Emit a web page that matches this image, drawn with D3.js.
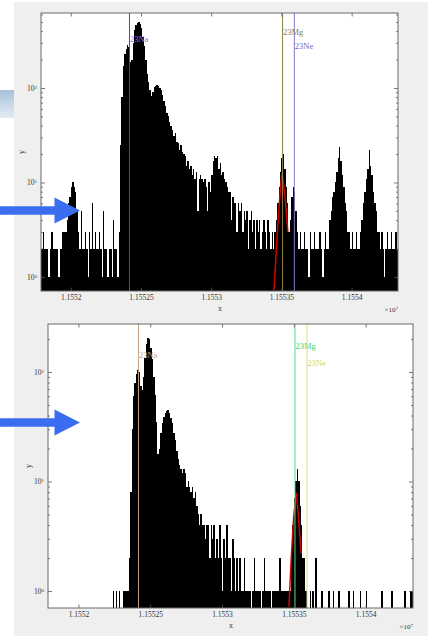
<!DOCTYPE html>
<html>
<head>
<meta charset="utf-8">
<script src="https://d3js.org/d3.v7.min.js"></script>
<style>
  body { margin: 0; background: #fff; }
  svg { display: block; }
  text { font-family: "Liberation Serif", "DejaVu Serif", serif; }
</style>
</head>
<body>
<svg id="chart" width="428" height="636"></svg>
<script>
// histogram bins (x in raw units, axis shows x/1e7)
var binStart = 11551790;
var binWidth = 10;
var xDomain = [11551788, 11554330];
var xTicks = [11552000, 11552500, 11553000, 11553500, 11554000];
var yTicks = [1, 10, 100];
var yMinor = [2, 3, 4, 5, 6, 7, 8, 9, 20, 30, 40, 50, 60, 70, 80, 90, 200, 300, 400, 500, 600];

var isotopes = ["23Na", "23Mg", "23Ne"];
var isotopeX = [11552418, 11553508, 11553592];

// counts, first run
var topCounts = [
  2,3,2,2,2,1,2,3,2,2,2,2,1,2,2,3,
  3,3,4,6,7,9,10,9,8,5,3,
  2,5,2,2,3,2,1,3,2,6,2,3,2,2,3,2,1,5,2,2,1,2,2,1,4,2,2,1,
  3,25,80,170,230,260,285,
  270,190,200,300,410,460,490,500,470,430,
  350,280,200,140,115,95,82,90,102,106,
  108,104,100,96,85,72,64,55,50,44,
  40,36,31,33,27,26,22,25,21,20,
  19,15,17,14,15,12,14,11,13,5,
  11,12,11,10,11,9,5,10,8,12,
  17,19,18,19,14,16,
  12,13,11,10,9,8,8,4,7,6,
  6,3,6,5,6,3,5,4,5,2,
  4,5,3,4,2,4,3,4,2,3,
  4,3,2,4,3,2,3,2,
  3,4,6,9,13,18,20,14,9,6,3,4,7,9,8,5,3,
  2,3,2,2,3,2,2,1,3,2,2,3,2,2,2,3,2,1,2,3,2,2,
  4,5,7,8,10,13,18,24,17,12,9,6,5,3,3,
  2,3,2,2,3,2,2,3,
  4,6,8,11,14,22,15,12,8,6,5,3,3,
  2,3,2,1,2,3,2,2,3,2,2,3,2
];

// counts, second run
var bottomCounts = [
  0,0,0,0,0,0,0,0,0,0,
  0,0,0,0,0,0,0,0,0,0,
  0,0,0,0,0,0,0,0,0,0,
  0,0,0,0,0,0,0,0,0,0,
  0,0,0,0,0,
  1,0,1,0,1,0,0,1,1,1,1,
  2,8,30,60,80,95,105,100,75,68,
  90,135,180,205,200,165,130,90,62,35,
  18,20,28,34,39,42,44,45,42,38,
  34,28,24,19,16,14,13,12,13,12,
  9,10,9,8,9,7,8,6,5,4,
  5,4,4,3,4,4,2,4,3,4,
  2,3,2,4,2,1,3,2,4,2,
  2,1,3,2,1,2,1,2,1,
  1,2,1,1,1,1,0,1,2,1,
  1,1,1,0,1,2,1,1,1,1,
  0,1,1,1,1,1,2,1,1,1,
  1,1,1,
  1,2,4,7,10,13,10,6,4,2,2,1,
  0,0,1,0,1,0,2,0,0,0,
  1,0,0,0,0,1,0,0,1,0,
  0,0,1,0,0,0,0,0,0,1,
  0,0,1,0,0,0,0,1,0,0,
  0,1,0,0,0,0,0,0,0,0,
  0,0,1,0,0,0,0,0,0,1,
  0,0,0,0,0,0,0,0,1,0,
  0,0,1,1
];

// fitted peak (23Mg)
var topFitX = [11553447, 11553464, 11553481, 11553495, 11553504, 11553523, 11553535, 11553546];
var topFitY = [0.73, 2.0, 5.0, 9.5, 12.5, 7.7, 4.8, 3.0];
var bottomFitX = [11553466, 11553482, 11553499, 11553517, 11553529, 11553541, 11553552];
var bottomFitY = [0.72, 2.0, 4.7, 7.9, 5.4, 3.3, 2.2];

var svg = d3.select("#chart");
var defs = svg.append("defs");

//background, slide bits
var grad = defs.append("linearGradient").attr("id", "bluebar")
    .attr("x1", 0).attr("y1", 0).attr("x2", 0).attr("y2", 1);
grad.append("stop").attr("offset", "0%").attr("stop-color", "#a9c1d9");
grad.append("stop").attr("offset", "100%").attr("stop-color", "#e3ecf4");

svg.append("rect").attr("x", 14).attr("y", 2).attr("width", 414).attr("height", 634)
    .attr("fill", "#efefef");
svg.append("rect").attr("x", 0).attr("y", 90).attr("width", 14).attr("height", 28)
    .attr("fill", "url(#bluebar)");

var fmtX = function(d){ return String(+(d / 1e7).toFixed(5)); };

function drawPanel(p){
    var x = d3.scaleLinear().domain(xDomain).range([p.left, p.right]);
    var y = d3.scaleLog().domain(p.yDomain).range([p.bottom, p.top]);
    var g = svg.append("g");

    var clipId = "clip-" + p.id;
    defs.append("clipPath").attr("id", clipId).append("rect")
	.attr("x", p.left).attr("y", p.top)
	.attr("width", p.right - p.left).attr("height", p.bottom - p.top);

    g.append("rect").attr("x", p.left).attr("y", p.top)
	.attr("width", p.right - p.left).attr("height", p.bottom - p.top)
	.attr("fill", "#fff");

    // bars
    var bins = p.counts.map(function(c, i){
	return {x0: binStart + i * binWidth, x1: binStart + (i + 1) * binWidth, c: c};
    }).filter(function(d){ return d.c > 0; });

    g.append("g").attr("clip-path", "url(#" + clipId + ")")
	.attr("shape-rendering", "crispEdges")
	.selectAll("rect").data(bins).join("rect")
	.attr("x", function(d){ return x(d.x0); })
	.attr("width", function(d){ return x(d.x1) - x(d.x0); })
	.attr("y", function(d){ return y(d.c); })
	.attr("height", function(d){ return p.bottom - y(d.c); })
	.attr("fill", "#000");

    // fit
    var fit = p.fitX.map(function(v, i){ return [v, p.fitY[i]]; });
    g.append("path").datum(fit)
	.attr("clip-path", "url(#" + clipId + ")")
	.attr("d", d3.line().x(function(d){ return x(d[0]); }).y(function(d){ return y(d[1]); }))
	.attr("fill", "none").attr("stroke", "#d40000").attr("stroke-width", 1.5);

    // isotope lines + labels
    isotopes.forEach(function(name, i){
	var xv = x(isotopeX[i]);
	g.append("line").attr("x1", xv).attr("x2", xv).attr("y1", p.top).attr("y2", p.bottom)
	    .attr("stroke", p.lineColors[i]).attr("stroke-width", 1);
	g.append("text").attr("x", xv + 0.5).attr("y", p.top + p.labelOffsets[i])
	    .attr("font-size", 8.5).attr("fill", p.labelColors[i])
	    .text(name);
    });

    // axes, ticks inside like matlab
    var axisColor = "#555";
    var bx = g.append("g").attr("transform", "translate(0," + p.bottom + ")")
	.call(d3.axisBottom(x).tickValues(xTicks).tickFormat(fmtX)
	      .tickSizeInner(-3.5).tickSizeOuter(0).tickPadding(4));
    var tx = g.append("g").attr("transform", "translate(0," + p.top + ")")
	.call(d3.axisTop(x).tickValues(xTicks).tickFormat("")
	      .tickSizeInner(-3.5).tickSizeOuter(0));
    var ly = g.append("g").attr("transform", "translate(" + p.left + ",0)")
	.call(d3.axisLeft(y).tickValues(yTicks).tickFormat("")
	      .tickSizeInner(-4).tickSizeOuter(0).tickPadding(4));
    var ry = g.append("g").attr("transform", "translate(" + p.right + ",0)")
	.call(d3.axisRight(y).tickValues(yTicks).tickFormat("")
	      .tickSizeInner(-4).tickSizeOuter(0));
    var minor = yMinor.filter(function(v){ return v < p.yDomain[1]; });
    var lmy = g.append("g").attr("transform", "translate(" + p.left + ",0)")
	.call(d3.axisLeft(y).tickValues(minor).tickFormat("").tickSizeInner(-2).tickSizeOuter(0));
    var rmy = g.append("g").attr("transform", "translate(" + p.right + ",0)")
	.call(d3.axisRight(y).tickValues(minor).tickFormat("").tickSizeInner(-2).tickSizeOuter(0));

    [bx, tx, ly, ry, lmy, rmy].forEach(function(a){
	a.select(".domain").remove();
	a.attr("color", axisColor);
	a.selectAll(".tick line").attr("stroke-width", 0.8);
    });
    bx.selectAll("text").attr("font-size", 7.5).attr("fill", "#333")
	.attr("font-family", "Liberation Serif, serif");

    // y labels as 10^n
    ly.selectAll(".tick").each(function(d){
	var t = d3.select(this).append("text")
	    .attr("x", -4).attr("dy", "0.32em")
	    .attr("text-anchor", "end").attr("fill", "#333")
	    .attr("font-size", 7.5).attr("font-family", "Liberation Serif, serif");
	t.append("tspan").text("10");
	t.append("tspan").attr("dy", "-0.45em").attr("font-size", 5)
	    .text(String(Math.round(Math.log10(d))));
    });

    g.append("rect").attr("x", p.left).attr("y", p.top)
	.attr("width", p.right - p.left).attr("height", p.bottom - p.top)
	.attr("fill", "none").attr("stroke", "#6a6a6a").attr("stroke-width", 1);

    // axis titles
    g.append("text").attr("x", (p.left + p.right) / 2 + 0.5).attr("y", p.bottom + 20)
	.attr("text-anchor", "middle").attr("font-size", 8).attr("fill", "#333").text("x");
    g.append("text").attr("transform", "translate(" + p.yLabelX + "," + p.yLabelY + ") rotate(-90)")
	.attr("text-anchor", "middle").attr("font-size", 8).attr("fill", "#333").text("y");
    var mult = g.append("text").attr("x", p.right).attr("y", p.bottom + 21)
	.attr("text-anchor", "end").attr("font-size", 7).attr("fill", "#333");
    mult.append("tspan").text("\u00d710");
    mult.append("tspan").attr("dy", "-0.5em").attr("font-size", 5).text("7");
}

drawPanel({
    id: "top", left: 41, right: 398, top: 13, bottom: 291,
    yDomain: [0.71, 622],
    counts: topCounts, fitX: topFitX, fitY: topFitY,
    lineColors: ["#6a32d8", "#8c8044", "#8a78c4"],
    labelColors: ["#9a6cf0", "#8c8044", "#7a68b4"],
    labelOffsets: [29, 22, 35.5],
    yLabelX: 24, yLabelY: 152
});

drawPanel({
    id: "bottom", left: 48, right: 413, top: 324, bottom: 608,
    yDomain: [0.70, 274],
    counts: bottomCounts, fitX: bottomFitX, fitY: bottomFitY,
    lineColors: ["#c8a686", "#52de8c", "#d4e27a"],
    labelColors: ["#c8a686", "#3ccf78", "#c8d870"],
    labelOffsets: [33.5, 25, 42],
    yLabelX: 31, yLabelY: 466
});

//arrows
var arrow = "M0,-4.3 L54.5,-4.3 L54.5,-13 L80,0 L54.5,13 L54.5,4.3 L0,4.3 Z";
svg.append("path").attr("d", arrow).attr("transform", "translate(0,210.5)").attr("fill", "#3b6df0");
svg.append("path").attr("d", arrow).attr("transform", "translate(0,422.5)").attr("fill", "#3b6df0");
</script>
</body>
</html>
